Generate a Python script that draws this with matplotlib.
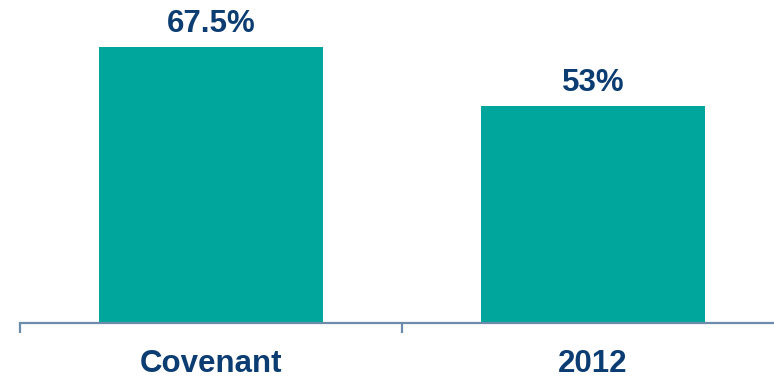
import matplotlib
matplotlib.use("Agg")
import matplotlib.pyplot as plt

categories = ["Covenant", "2012"]
values = [67.5, 53]
value_labels = ["67.5%", "53%"]

W, H = 774, 380
fig = plt.figure(figsize=(W / 100, H / 100), dpi=100)
ax = fig.add_axes([20 / W, 57 / H, 764 / W, 323 / H])

bar_color = "#00A59B"
text_color = "#0C3D72"
axis_color = "#6D8BAA"
font = dict(fontsize=22.5, fontweight="bold", color=text_color, family="Liberation Sans")

x = list(range(len(categories)))
bars = ax.bar(x, values, width=0.584, color=bar_color, zorder=2)

ax.set_xlim(-0.5, len(categories) - 0.5)
ax.set_ylim(0, 79.0)

# value labels above each bar
for rect, lbl in zip(bars, value_labels):
    ax.annotate(lbl, (rect.get_x() + rect.get_width() / 2, rect.get_height()),
                xytext=(0, 11), textcoords="offset points",
                ha="center", va="baseline", **font)

# category labels below the axis
for xi, cat in zip(x, categories):
    ax.annotate(cat, (xi, 0), xycoords=("data", "axes fraction"),
                xytext=(0, -35.5), textcoords="offset points",
                ha="center", va="baseline", annotation_clip=False, **font)

for side in ["top", "right", "left"]:
    ax.spines[side].set_visible(False)
ax.spines["bottom"].set_color(axis_color)
ax.spines["bottom"].set_linewidth(1.6)
ax.set_yticks([])

ax.set_xticks([-0.5, 0.5, 1.5])
ax.set_xticklabels([])
ax.tick_params(axis="x", length=7, width=1.6, color=axis_color, direction="out")

fig.savefig("out.png", dpi=100)
